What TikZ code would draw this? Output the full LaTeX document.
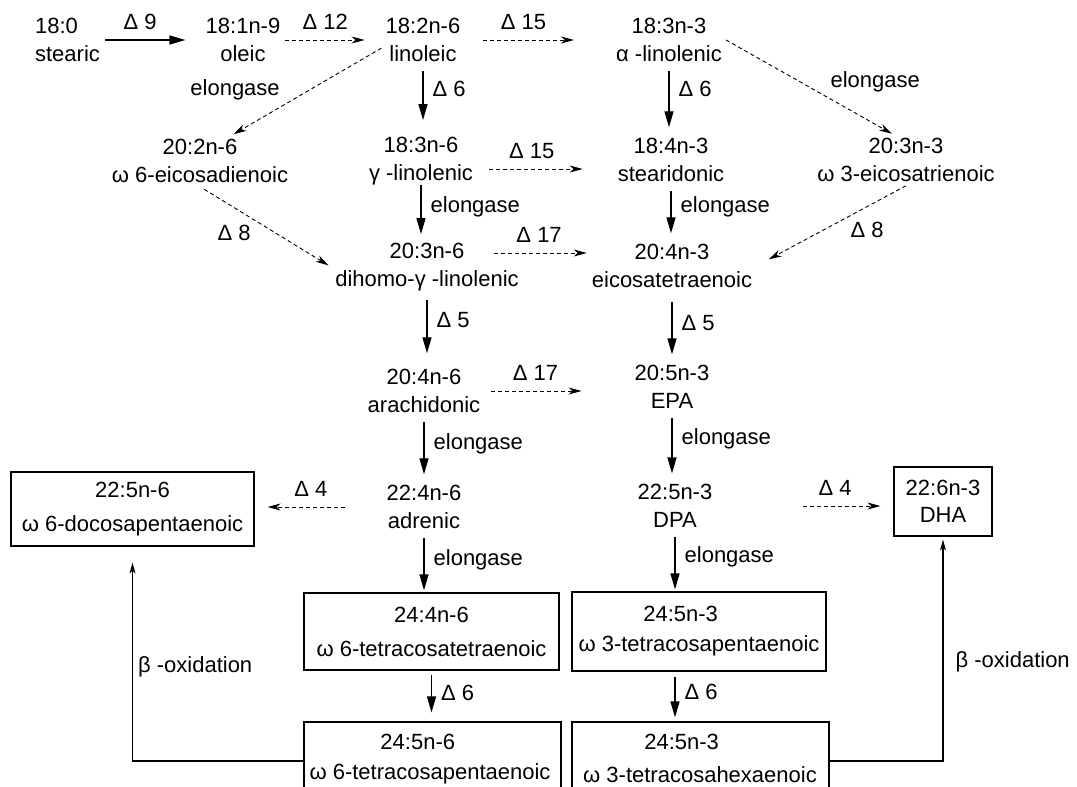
\documentclass[tikz,border=0pt]{standalone}
\usepackage{fontspec}
\setmainfont{Liberation Sans}
\usetikzlibrary{arrows.meta}

\begin{document}
\begin{tikzpicture}[x=1pt, y=-1pt,
	every node/.style={font=\fontsize{22}{27.5}\selectfont, align=center, inner sep=4pt},
	box/.style={draw, line width=1.2pt, inner sep=0pt},
	solidarr/.style={-{Triangle[length=16pt,width=9pt]}, line width=1.3pt, shorten <=5pt, shorten >=7pt},
	dasharr/.style={-{Stealth[length=13pt,width=7pt,inset=4pt]}, line width=0.9pt, dash pattern=on 4pt off 3pt},
	oxarr/.style={-{Stealth[length=11pt,width=6pt,inset=3pt]}, line width=1.2pt}]
	\path[use as bounding box, fill=white] (0,0) rectangle (1077,787);
	% fatty acids
	\node[align=left] (st) at (67.5,40) {18:0\\stearic};
	\node (ol) at (243,40) {18:1n-9\\oleic};
	\node (la) at (423,40) {18:2n-6\\linoleic};
	\node (ala) at (669,40) {18:3n-3\\α -linolenic};
		\node (eda) at (200,161) {20:2n-6\\ω 6-eicosadienoic};
		\node (gla) at (421,161) {18:3n-6\\γ -linolenic};
		\node (sda) at (671,160) {18:4n-3\\stearidonic};
		\node (ete) at (906,160) {20:3n-3\\ω 3-eicosatrienoic};
			\node (dgla) at (427,267) {20:3n-6\\dihomo-γ -linolenic};
			\node (eta) at (672,266) {20:4n-3\\eicosatetraenoic};
			\node (ara) at (424,391) {20:4n-6\\arachidonic};
			\node (epa) at (672,387) {20:5n-3\\EPA};
			\node (adr) at (424,507) {22:4n-6\\adrenic};
			\node (dpa) at (675,506) {22:5n-3\\DPA};
	% boxed ones
	\node[box, minimum width=243pt, minimum height=74pt] (dpa6) at (132.5,509) {22:5n-6\\[6.5pt]ω 6-docosapentaenoic};
	\node[box, minimum width=98pt, minimum height=69pt] (dha) at (943,501.5) {22:6n-3\\DHA};
	\node[box, minimum width=255pt, minimum height=77pt] (tta) at (431.5,631.5) {24:4n-6\\[6.5pt]ω 6-tetracosatetraenoic};
	\node[box, minimum width=254pt, minimum height=79pt] (tpa3) at (699,631.5) {24:5n-3\hphantom{000}\\[2.5pt]ω 3-tetracosapentaenoic};
	\node[box, minimum width=257pt, minimum height=78pt] (tpa6) at (432.5,761) {};
	\node (tpa6t) at (430,759) {24:5n-6\hphantom{00}\\[2.5pt]ω 6-tetracosapentaenoic};
	\node[box, minimum width=257pt, minimum height=78pt] (tha) at (700.5,761) {};
	\node (that) at (700,758.5) {24:5n-3\hphantom{000}\\[5.5pt]ω 3-tetracosahexaenoic};
	% desaturases across
	\draw[solidarr, shorten <=1pt, shorten >=16pt] (st) to node[above=6pt, pos=0.37] (d9) {Δ 9} (ol);
	\draw[dasharr, shorten >=17pt] (ol) to node[above=6pt, pos=0.42] (d12) {Δ 12} (la);
	\draw[dasharr, shorten <=18pt, shorten >=38pt] (la) to node[above=6pt, pos=0.4] (d15a) {Δ 15} (ala);
	\draw[dasharr, shorten <=12pt, shorten >=31pt] ([yshift=-8pt]gla.east) to node[above=6pt, pos=0.4] (d15b) {Δ 15} ([yshift=-8pt]gla.east -| sda.west);
	\draw[dasharr, shorten <=-29pt, shorten >=1pt] ([yshift=14pt]dgla.east) to node[above=6pt, pos=0.25] (d17a) {Δ 17} ([yshift=14pt]dgla.east -| eta.west);
	\draw[dasharr, shorten <=7pt, shorten >=49pt] (ara.east) to node[above=6pt, pos=0.35] (d17b) {Δ 17} (ara.east -| epa.west);
	\draw[dasharr, shorten <=37pt, shorten >=13pt] (adr.west) to node[above=6pt, pos=0.56] (d4a) {Δ 4} (adr.west -| dpa6.east);
	\draw[dasharr, shorten <=86pt, shorten >=13pt] (dpa.east) to node[above=6pt, pos=0.67] (d4b) {Δ 4} (dpa.east -| dha.west);
	% diagonal ones
	\draw[dasharr, shorten >=2pt] (la.191) to node[above left, pos=0.65] (el1) {elongase} (eda.39);
	\draw[dasharr, shorten >=1pt] (ala.east) to node[above right, pos=0.6] (el2) {elongase} (ete.117);
	\draw[dasharr, shorten <=5pt, shorten >=3pt] (eda.south) to node[below left, pos=0.42] (d8a) {Δ 8} (dgla.west);
	\draw[dasharr, shorten >=14pt] (ete.south) to node[below right, pos=0.4] (d8b) {Δ 8} (eta.east);
	% down the columns
	\draw[solidarr, shorten >=13pt] (la.south) to node[right=5pt, pos=0.35] (d6a) {Δ 6} (la.south |- gla.north);
	\draw[solidarr, shorten <=-4pt, shorten >=5pt] (gla.south) to node[right=5pt, pos=0.36] (el3) {elongase} (gla.south |- dgla.north);
	\draw[solidarr] (ala.south) to node[right=5pt, pos=0.34] (d6b) {Δ 6} (ala.south |- sda.north);
	\draw[solidarr] (sda.south) to node[right=5pt, pos=0.39] (el4) {elongase} (sda.south |- eta.north);
	\draw[solidarr, shorten >=12pt] (dgla.south) to node[right=5pt, pos=0.36] (d5a) {Δ 5} (dgla.south |- ara.north);
	\draw[solidarr, shorten <=10pt] (eta.south) to node[right=5pt, pos=0.45] (d5b) {Δ 5} (eta.south |- epa.north);
	\draw[solidarr] (ara.south) to node[right=5pt, pos=0.42] (el5) {elongase} (ara.south |- adr.north);
	\draw[solidarr] (epa.south) to node[right=5pt, pos=0.39] (el6) {elongase} (epa.south |- dpa.north);
	\draw[solidarr, shorten >=2pt] (adr.south) to node[right=5pt, pos=0.45] (el7) {elongase} (adr.south |- tta.north);
	\draw[solidarr, shorten >=2pt] (dpa.south) to node[right=5pt, pos=0.42] (el8) {elongase} (dpa.south |- tpa3.north);
	\draw[solidarr, shorten <=4pt, shorten >=9pt] (tta.south) to node[right=5pt, pos=0.44] (d6c) {Δ 6} (tta.south |- tpa6.north);
	\draw[solidarr, shorten >=4pt] (dpa |- tpa3.south) to node[right=5pt, pos=0.41] (d6d) {Δ 6} (dpa |- tha.north);
	% back by beta-oxidation
	\draw[oxarr, shorten >=16pt] (tpa6.west) -| node[right=1pt, pos=0.72] (ox1) {β -oxidation} (dpa6.south);
	\draw[oxarr, shorten >=3pt] (tha.east) -| node[right=8pt, pos=0.72] (ox2) {β -oxidation} (dha.south);
\end{tikzpicture}
\end{document}
